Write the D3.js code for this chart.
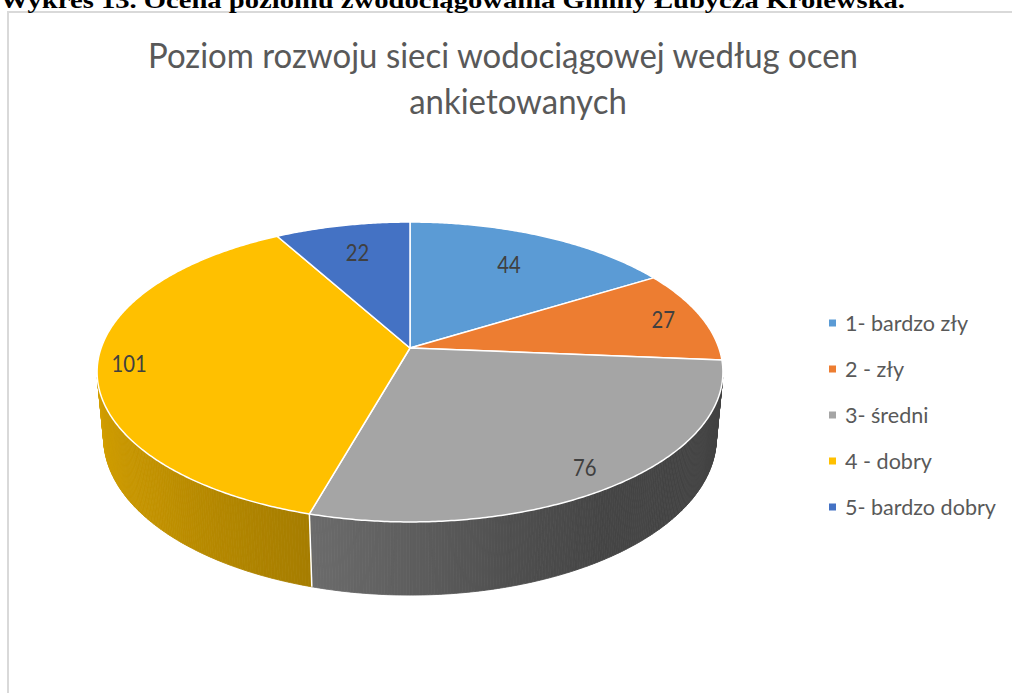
<!DOCTYPE html>
<html><head><meta charset="utf-8">
<script src="https://cdn.jsdelivr.net/npm/d3@7"></script>
<style>html,body{margin:0;padding:0;background:#fff;overflow:hidden} svg{display:block}</style>
</head><body><svg id="c" width="1012" height="693"></svg>
<script>
// ---------- data ----------
const categories = ["1- bardzo zły", "2 - zły", "3- średni", "4 - dobry", "5- bardzo dobry"];
const values = [44, 27, 76, 101, 22];
const colors = ["#5B9BD5", "#ED7D31", "#A5A5A5", "#FFC000", "#4472C4"];
const titleLines = ["Poziom rozwoju sieci wodociągowej według ocen", "ankietowanych"];
const headerText = "Wykres 13. Ocena poziomu zwodociągowania Gminy Łubycza Królewska.";

// ---------- layout / style ----------
const labelRadius = [0.72, 0.87, 0.88, 0.9, 0.75];
const cx = 410, cy = 348;
const f = 1702, D = 5.51, sinA = 0.473, cosA = 0.881, thick = 0.245;
const labelRatio = 0.88, legendRatio = 0.98, titleWidth = 710;

const svg = d3.select("#c");

function project(u, v, z) {
  const den = D - v * cosA - z * sinA;
  return [cx + f * u / den, cy + f * (v * sinA - z * cosA) / den];
}
function rim(a, z, r = 1) { return project(r * Math.sin(a), -r * Math.cos(a), z); }

// chart frame
svg.append("rect").attr("x", 8).attr("y", 12).attr("width", 1010).attr("height", 700)
  .attr("fill", "#fff").attr("stroke", "#d9d9d9").attr("stroke-width", 2);

// header (caption cut off at the top, as in the source image)
svg.append("text").attr("x", 0).attr("y", 8)
  .attr("font-family", "'Liberation Serif', serif").attr("font-weight", "bold")
  .attr("font-size", 24).attr("fill", "#000").text(headerText)
  .attr("textLength", 905).attr("lengthAdjust", "spacingAndGlyphs");

// title
const titleY = [68, 114];
const titleCx = [503, 518];
let titleScale = 1;
titleLines.forEach((t, i) => {
  const el = svg.append("text").attr("x", titleCx[i]).attr("y", titleY[i])
    .attr("text-anchor", "middle")
    .attr("font-family", "Lato, 'Open Sans', sans-serif").attr("font-weight", 400)
    .attr("font-size", 35).attr("fill", "#595959").text(t);
  const w = el.node().getComputedTextLength();
  if (i === 0) titleScale = titleWidth / w;
  el.attr("textLength", w * titleScale).attr("lengthAdjust", "spacingAndGlyphs");
});

// pie
const pie = d3.pie().sort(null).value(d => d);
const arcs = pie(values);
const step = Math.PI / 360;

const shade = d3.scaleLinear()
  .domain([90, 147, 164, 180, 196, 228, 270])
  .range([0.40, 0.42, 0.48, 0.57, 0.65, 0.76, 0.85]).clamp(true);

const wallG = svg.append("g");
arcs.forEach((d, i) => {
  const base = d3.rgb(colors[i]);
  const n = Math.max(2, Math.ceil((d.endAngle - d.startAngle) / step));
  for (let k = 0; k < n; k++) {
    const a0 = d.startAngle + (d.endAngle - d.startAngle) * k / n;
    const a1 = d.startAngle + (d.endAngle - d.startAngle) * (k + 1) / n;
    const am = (a0 + a1) / 2;
    const v = -Math.cos(am);
    if (D * cosA * v - 1 <= -0.05) continue;
    const kf = shade(am * 180 / Math.PI);
    const col = d3.rgb(base.r * kf, base.g * kf, base.b * kf).formatHex();
    const pts = [rim(a0, 0), rim(a1, 0), rim(a1, -thick), rim(a0, -thick)];
    wallG.append("path").attr("d", "M" + pts.map(p => p.join(",")).join("L") + "Z")
      .attr("fill", col).attr("stroke", col).attr("stroke-width", 0.8);
  }
});
// white vertical edges at visible slice boundaries
arcs.forEach(d => {
  const a = d.startAngle;
  if (D * cosA * (-Math.cos(a)) - 1 > 0) {
    const p0 = rim(a, 0), p1 = rim(a, -thick);
    wallG.append("line").attr("x1", p0[0]).attr("y1", p0[1]).attr("x2", p1[0]).attr("y2", p1[1])
      .attr("stroke", "#fff").attr("stroke-width", 1.5);
  }
});

// top surface
const topG = svg.append("g");
arcs.forEach((d, i) => {
  const n = Math.max(2, Math.ceil((d.endAngle - d.startAngle) / step));
  const pts = [project(0, 0, 0)];
  for (let k = 0; k <= n; k++) {
    pts.push(rim(d.startAngle + (d.endAngle - d.startAngle) * k / n, 0));
  }
  topG.append("path").attr("d", "M" + pts.map(p => p.join(",")).join("L") + "Z")
    .attr("fill", colors[i]).attr("stroke", "#fff").attr("stroke-width", 1.5)
    .attr("stroke-linejoin", "round");
});

// data labels
arcs.forEach((d, i) => {
  const am = (d.startAngle + d.endAngle) / 2;
  const p = rim(am, 0, labelRadius[i]);
  const el = svg.append("text").attr("x", p[0]).attr("y", p[1]).attr("dy", "0.35em")
    .attr("text-anchor", "middle")
    .attr("font-family", "Lato, 'Open Sans', sans-serif").attr("font-size", 23)
    .attr("fill", "#404040").text(values[i]);
  const w = el.node().getComputedTextLength();
  el.attr("textLength", w * labelRatio).attr("lengthAdjust", "spacingAndGlyphs");
});

// legend
const lg = svg.append("g").attr("transform", "translate(829,323)");
categories.forEach((c, i) => {
  const row = lg.append("g").attr("transform", `translate(0,${i * 46})`);
  row.append("rect").attr("x", 0).attr("y", -3.5).attr("width", 7).attr("height", 7).attr("fill", colors[i]);
  const el = row.append("text").attr("x", 16).attr("y", 0).attr("dy", "0.35em")
    .attr("font-family", "Lato, 'Open Sans', sans-serif").attr("font-size", 22)
    .attr("fill", "#595959").text(c);
  const w = el.node().getComputedTextLength();
  el.attr("textLength", w * legendRatio).attr("lengthAdjust", "spacingAndGlyphs");
});
</script></body></html>
